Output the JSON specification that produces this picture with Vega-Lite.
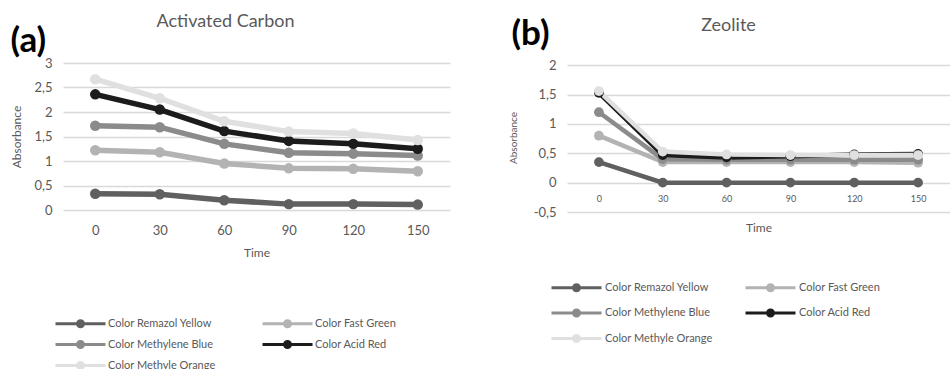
{
  "$schema": "https://vega.github.io/schema/vega-lite/v6.json",
  "padding": {"left": 10, "top": 13, "right": 0, "bottom": 0},
  "bounds": "flush",
  "spacing": 117,
  "config": {
    "view": {"stroke": null},
    "font": "Lato",
    "axis": {"domain": false, "ticks": false, "labelColor": "#595959", "titleColor": "#595959", "titleFontWeight": "normal", "gridColor": "#d9d9d9", "gridWidth": 1.5},
    "title": {"color": "#595959", "fontWeight": "normal", "fontSize": 18, "font": "Lato"},
    "legend": {"labelColor": "#595959", "labelFont": "Lato", "labelFontSize": 11}
  },
  "datasets": {
    "ac": [
      {"s": "Color Remazol Yellow", "t": 0, "a": 0.33}, {"s": "Color Remazol Yellow", "t": 30, "a": 0.32}, {"s": "Color Remazol Yellow", "t": 60, "a": 0.2}, {"s": "Color Remazol Yellow", "t": 90, "a": 0.12}, {"s": "Color Remazol Yellow", "t": 120, "a": 0.12}, {"s": "Color Remazol Yellow", "t": 150, "a": 0.11},
      {"s": "Color Fast Green", "t": 0, "a": 1.22}, {"s": "Color Fast Green", "t": 30, "a": 1.18}, {"s": "Color Fast Green", "t": 60, "a": 0.95}, {"s": "Color Fast Green", "t": 90, "a": 0.85}, {"s": "Color Fast Green", "t": 120, "a": 0.84}, {"s": "Color Fast Green", "t": 150, "a": 0.79},
      {"s": "Color Methylene Blue", "t": 0, "a": 1.72}, {"s": "Color Methylene Blue", "t": 30, "a": 1.69}, {"s": "Color Methylene Blue", "t": 60, "a": 1.35}, {"s": "Color Methylene Blue", "t": 90, "a": 1.17}, {"s": "Color Methylene Blue", "t": 120, "a": 1.15}, {"s": "Color Methylene Blue", "t": 150, "a": 1.11},
      {"s": "Color Acid Red", "t": 0, "a": 2.36}, {"s": "Color Acid Red", "t": 30, "a": 2.05}, {"s": "Color Acid Red", "t": 60, "a": 1.61}, {"s": "Color Acid Red", "t": 90, "a": 1.41}, {"s": "Color Acid Red", "t": 120, "a": 1.35}, {"s": "Color Acid Red", "t": 150, "a": 1.25},
      {"s": "Color Methyle Orange", "t": 0, "a": 2.67}, {"s": "Color Methyle Orange", "t": 30, "a": 2.28}, {"s": "Color Methyle Orange", "t": 60, "a": 1.81}, {"s": "Color Methyle Orange", "t": 90, "a": 1.6}, {"s": "Color Methyle Orange", "t": 120, "a": 1.56}, {"s": "Color Methyle Orange", "t": 150, "a": 1.43}
    ],
    "ze": [
      {"s": "Color Remazol Yellow", "t": 0, "a": 0.35}, {"s": "Color Remazol Yellow", "t": 30, "a": 0}, {"s": "Color Remazol Yellow", "t": 60, "a": 0}, {"s": "Color Remazol Yellow", "t": 90, "a": 0}, {"s": "Color Remazol Yellow", "t": 120, "a": 0}, {"s": "Color Remazol Yellow", "t": 150, "a": 0},
      {"s": "Color Fast Green", "t": 0, "a": 0.8}, {"s": "Color Fast Green", "t": 30, "a": 0.35}, {"s": "Color Fast Green", "t": 60, "a": 0.35}, {"s": "Color Fast Green", "t": 90, "a": 0.35}, {"s": "Color Fast Green", "t": 120, "a": 0.35}, {"s": "Color Fast Green", "t": 150, "a": 0.34},
      {"s": "Color Methylene Blue", "t": 0, "a": 1.2}, {"s": "Color Methylene Blue", "t": 30, "a": 0.4}, {"s": "Color Methylene Blue", "t": 60, "a": 0.39}, {"s": "Color Methylene Blue", "t": 90, "a": 0.39}, {"s": "Color Methylene Blue", "t": 120, "a": 0.39}, {"s": "Color Methylene Blue", "t": 150, "a": 0.39},
      {"s": "Color Acid Red", "t": 0, "a": 1.53}, {"s": "Color Acid Red", "t": 30, "a": 0.47}, {"s": "Color Acid Red", "t": 60, "a": 0.43}, {"s": "Color Acid Red", "t": 90, "a": 0.45}, {"s": "Color Acid Red", "t": 120, "a": 0.48}, {"s": "Color Acid Red", "t": 150, "a": 0.49},
      {"s": "Color Methyle Orange", "t": 0, "a": 1.56}, {"s": "Color Methyle Orange", "t": 30, "a": 0.53}, {"s": "Color Methyle Orange", "t": 60, "a": 0.48}, {"s": "Color Methyle Orange", "t": 90, "a": 0.47}, {"s": "Color Methyle Orange", "t": 120, "a": 0.47}, {"s": "Color Methyle Orange", "t": 150, "a": 0.47}
    ]
  },
  "hconcat": [
    {
      "width": 387,
      "height": 147,
      "data": {"name": "ac"},
      "title": {"text": "Activated Carbon", "anchor": "middle", "frame": "group", "dx": -31, "offset": -8},
      "encoding": {
        "y": {"field": "a", "type": "quantitative", "scale": {"domain": [0, 3]},
          "axis": {"title": "Absorbance", "values": [0, 0.5, 1, 1.5, 2, 2.5, 3], "labelExpr": "replace(datum.value + '', '.', ',')", "labelFontSize": 13, "labelPadding": 11, "titleFontSize": 12, "titlePadding": 10}},
        "color": {"field": "s", "type": "nominal",
          "scale": {"domain": ["Color Remazol Yellow", "Color Methylene Blue", "Color Methyle Orange", "Color Fast Green", "Color Acid Red"], "range": ["#606060", "#8b8b8b", "#e0e0e0", "#b3b3b3", "#1c1c1c"]},
          "legend": {"orient": "none", "legendX": 6, "legendY": 249, "columns": 2, "title": null, "symbolType": "M-2.5,0L2.5,0M0.3,0A0.3,0.3,0,1,1,-0.3,0A0.3,0.3,0,1,1,0.3,0Z", "symbolSize": 400, "symbolStrokeWidth": 3, "labelOffset": 16, "columnPadding": 40, "rowPadding": 0, "labelFontSize": 11}}
      },
      "layer": [
        {"mark": {"type": "line", "strokeWidth": 5.5},
          "encoding": {"x": {"field": "t", "type": "ordinal", "scale": {"type": "point", "padding": 0.5},
            "axis": {"title": "Time", "labelAngle": 0, "labelFontSize": 13, "labelPadding": 14, "titleFontSize": 12, "titlePadding": 10, "grid": false}}}},
        {"mark": {"type": "point", "filled": true, "size": 110, "opacity": 1},
          "encoding": {"x": {"field": "t", "type": "ordinal", "scale": {"type": "point", "padding": 0.5},
            "axis": {"orient": "top", "labels": false, "grid": false, "title": "(a)", "titleX": -53, "titleY": -12, "titleAlign": "left", "titleBaseline": "alphabetic", "titleAngle": 0, "titleFontSize": 35, "titleFontWeight": "bold", "titleColor": "#000000"}}}}
      ],
      "resolve": {"axis": {"x": "independent"}}
    },
    {
      "width": 383,
      "height": 149,
      "data": {"name": "ze"},
      "title": {"text": "Zeolite", "anchor": "middle", "frame": "group", "dx": -30, "offset": -19},
      "encoding": {
        "y": {"field": "a", "type": "quantitative", "scale": {"domain": [-0.5, 2.038], "nice": false},
          "axis": {"title": "Absorbance", "values": [-0.5, 0, 0.5, 1, 1.5, 2], "labelExpr": "replace(datum.value + '', '.', ',')", "labelFontSize": 13, "labelPadding": 11, "titleFontSize": 10, "titlePadding": 15}},
        "color": {"field": "s", "type": "nominal",
          "scale": {"domain": ["Color Remazol Yellow", "Color Methylene Blue", "Color Methyle Orange", "Color Fast Green", "Color Acid Red"], "range": ["#606060", "#8b8b8b", "#e0e0e0", "#b3b3b3", "#1c1c1c"]},
          "legend": {"orient": "none", "legendX": -2, "legendY": 213, "columns": 2, "title": null, "symbolType": "M-2.5,0L2.5,0M0.3,0A0.3,0.3,0,1,1,-0.3,0A0.3,0.3,0,1,1,0.3,0Z", "symbolSize": 400, "symbolStrokeWidth": 3, "labelOffset": 17, "columnPadding": 26, "rowPadding": 4.5, "labelFontSize": 11}}
      },
      "layer": [
        {"mark": {"type": "line", "strokeWidth": 4.5},
          "encoding": {"x": {"field": "t", "type": "ordinal", "scale": {"type": "point", "padding": 0.5},
            "axis": {"title": "Time", "labelAngle": 0, "labelFontSize": 9, "labelPadding": 12, "titleFontSize": 12, "titlePadding": 19, "grid": false, "offset": -29.3}}}},
        {"mark": {"type": "point", "filled": true, "size": 95, "opacity": 1},
          "encoding": {"x": {"field": "t", "type": "ordinal", "scale": {"type": "point", "padding": 0.5},
            "axis": {"orient": "top", "labels": false, "grid": false, "title": "(b)", "titleX": -56, "titleY": -19, "titleAlign": "left", "titleBaseline": "alphabetic", "titleAngle": 0, "titleFontSize": 35, "titleFontWeight": "bold", "titleColor": "#000000"}}}}
      ],
      "resolve": {"axis": {"x": "independent"}}
    }
  ],
  "resolve": {"scale": {"color": "independent", "x": "independent", "y": "independent"}, "legend": {"color": "independent"}}
}
